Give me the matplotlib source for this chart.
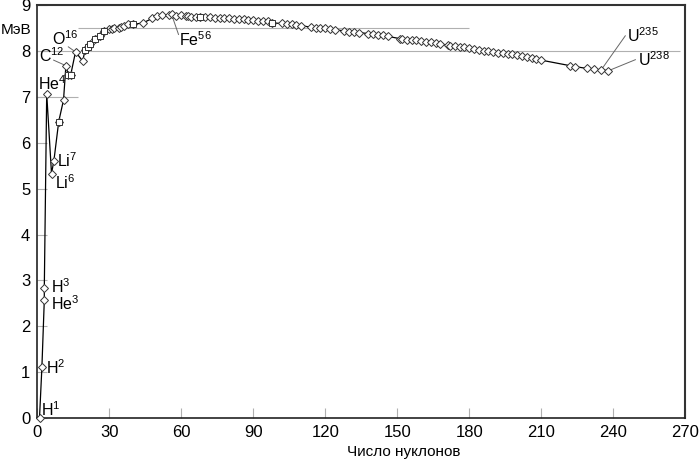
import matplotlib
matplotlib.use("Agg")
import matplotlib.pyplot as plt

plt.rcParams['font.family'] = ['Liberation Sans', 'DejaVu Sans']
plt.rcParams['mathtext.fontset'] = 'custom'
plt.rcParams['mathtext.rm'] = 'Liberation Sans'
plt.rcParams['mathtext.default'] = 'regular'

# Число нуклонов и энергия связи на нуклон (МэВ)
nucleons = [1, 2, 3, 3, 4, 6, 7, 9, 11, 12, 13, 14, 16, 19, 20, 21, 22, 24, 26,
            28, 30, 31, 32, 34, 35, 36, 38, 40, 44, 48, 50, 52, 55, 56, 58, 60,
            62, 63, 64, 66, 68, 70, 72, 74, 76, 78, 80, 82, 84, 86, 88, 90, 92,
            94, 96, 98, 102, 104, 106, 108, 110, 114, 116, 118, 120, 122, 124,
            128, 130, 132, 134, 138, 140, 142, 144, 146, 151, 152, 154, 156,
            158, 160, 162, 164, 166, 168, 171, 172, 174, 176, 178, 180, 182,
            184, 186, 188, 190, 192, 194, 196, 198, 200, 202, 204, 206, 208,
            210, 222, 224, 229, 232, 235, 238]
energy = [0.0, 1.11, 2.57, 2.83, 7.07, 5.33, 5.61, 6.46, 6.93, 7.68, 7.47, 7.48,
          7.98, 7.78, 8.03, 8.09, 8.16, 8.26, 8.33, 8.44, 8.47, 8.48, 8.49, 8.51,
          8.53, 8.55, 8.58, 8.58, 8.61, 8.71, 8.76, 8.78, 8.78, 8.80, 8.76, 8.78,
          8.77, 8.76, 8.75, 8.75, 8.74, 8.73, 8.73, 8.72, 8.71, 8.71, 8.71, 8.70,
          8.69, 8.69, 8.68, 8.67, 8.66, 8.66, 8.65, 8.61, 8.60, 8.59, 8.58, 8.57,
          8.55, 8.52, 8.51, 8.50, 8.49, 8.48, 8.46, 8.44, 8.42, 8.41, 8.40, 8.38,
          8.37, 8.35, 8.34, 8.32, 8.27, 8.26, 8.25, 8.24, 8.23, 8.21, 8.20, 8.19,
          8.17, 8.16, 8.12, 8.11, 8.10, 8.09, 8.08, 8.06, 8.04, 8.02, 8.01, 7.99,
          7.98, 7.96, 7.95, 7.94, 7.93, 7.91, 7.88, 7.86, 7.84, 7.82, 7.80, 7.68,
          7.66, 7.62, 7.60, 7.59, 7.57]

# точки, отмеченные квадратами
square_a = [9, 13, 14, 20, 21, 22, 24, 26, 28, 40, 68, 98]
square_e = [6.46, 7.47, 7.48, 8.03, 8.09, 8.16, 8.26, 8.33, 8.44, 8.58, 8.74, 8.61]

# подписи: текст, точка, положение текста, начало выноски (или None)
labels = [
    (r'H$^{1}$', 1, 0.0, 1.7, 0.19, None),
    (r'H$^{2}$', 2, 1.11, 3.6, 1.09, None),
    (r'H$^{3}$', 3, 2.83, 5.7, 2.86, None),
    (r'He$^{3}$', 3, 2.57, 5.7, 2.49, None),
    (r'He$^{4}$', 4, 7.07, 0.4, 7.28, None),
    (r'Li$^{7}$', 7, 5.61, 8.2, 5.60, None),
    (r'Li$^{6}$', 6, 5.33, 7.5, 5.14, None),
    (r'C$^{12}$', 12, 7.68, 0.8, 7.89, (6.9, 7.80)),
    (r'O$^{16}$', 16, 7.98, 6.2, 8.27, (13.0, 8.09)),
    (r'Fe$^{56}$', 56, 8.80, 59.0, 8.24, (58.9, 8.36)),
    (r'U$^{235}$', 235, 7.59, 245.6, 8.33, (245.0, 8.33)),
    (r'U$^{238}$', 238, 7.57, 250.3, 7.82, (249.2, 7.81)),
]

fig = plt.figure(figsize=(7, 4.63), dpi=100)
ax = fig.add_axes([0.053, 0.097, 0.926, 0.892])

ax.hlines([7], 0, 17, color='#b0b0b0', linewidth=0.8)
ax.hlines([8], 0, 268, color='#b0b0b0', linewidth=0.8)
ax.hlines([8.5], 17, 180, color='#b0b0b0', linewidth=0.8)

ax.plot(nucleons, energy, color='black', linewidth=0.9, marker='D',
        markersize=3.6, markerfacecolor='white', markeredgecolor='#333333',
        markeredgewidth=0.7, clip_on=False, zorder=3)
ax.plot(square_a, square_e, linestyle='none', marker='s', markersize=4.4,
        markerfacecolor='white', markeredgecolor='#333333',
        markeredgewidth=0.7, clip_on=False, zorder=4)

for text, a, e, tx, ty, leader in labels:
    ax.text(tx, ty, text, fontsize=11.5, ha='left', va='center', zorder=5)
    if leader is not None:
        ax.plot([leader[0], a], [leader[1], e], color='#666666',
                linewidth=0.7, zorder=2)

ax.set_xlim(0, 270)
ax.set_ylim(0, 9)
ax.set_xticks(range(0, 271, 30))
ax.set_yticks(range(0, 10))
ax.tick_params(direction='in', length=7, width=0.8, color='#b0b0b0',
               labelsize=12, pad=5)

for side in ['left', 'bottom']:
    ax.spines[side].set_color('#222222')
    ax.spines[side].set_linewidth(1.2)
for side in ['top', 'right']:
    ax.spines[side].set_color('#333333')
    ax.spines[side].set_linewidth(1.5)

ax.text(-0.032, 0.939, 'МэВ', transform=ax.transAxes, fontsize=11,
        ha='center', va='center')
ax.text(0.565, -0.082, 'Число нуклонов', transform=ax.transAxes,
        fontsize=11, ha='center', va='center')

fig.savefig('out.png', dpi=100)
